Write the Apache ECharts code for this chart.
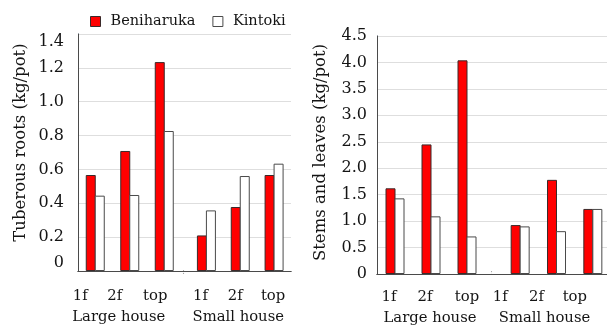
<!DOCTYPE html>
<html>
<head>
<meta charset="utf-8">
<script src="https://cdn.jsdelivr.net/npm/echarts@6/dist/echarts.min.js"></script>
<style>
  html, body { margin: 0; padding: 0; background: #ffffff; }
  #chart { width: 607px; height: 327px; }
</style>
</head>
<body>
<div id="chart"></div>
<script>
// ---- data ----
const floors = ['1f', '2f', 'top'];
const houses = ['Large house', 'Small house'];
const seriesNames = ['Beniharuka', 'Kintoki'];
// order: Large 1f, 2f, top, Small 1f, 2f, top
const rootsBeniharuka = [0.567, 0.709, 1.234, 0.21, 0.378, 0.567];
const rootsKintoki    = [0.445, 0.449, 0.827, 0.358, 0.561, 0.634];
const stemsBeniharuka = [1.62, 2.45, 4.04, 0.925, 1.78, 1.23];
const stemsKintoki    = [1.43, 1.09, 0.71, 0.90, 0.81, 1.23];
const rootsTicks = ['0', '0.2', '0.4', '0.6', '0.8', '1.0', '1.2', '1.4'];
const stemsTicks = ['0', '0.5', '1.0', '1.5', '2.0', '2.5', '3.0', '3.5', '4.0', '4.5'];
const rootsTitle = 'Tuberous roots (kg/pot)';
const stemsTitle = 'Stems and leaves (kg/pot)';

// ---- layout / style ----
const FONT = 'DejaVu Serif';
const TXT = '#141414';
const BENI = '#ff0000';
const KIN = '#ffffff';
const BORDER_DARK = '#4a4a4a';
const AXIS_BLUE = '#9ab5d8';
const GRID_GRAY = '#dedede';

// label horizontal shifts (px, negative = left) for each chart / house
const labelShift = {
  left:  [[-15, -15, -9], [-6, -5, -1]],
  right: [[-6, -6, 0], [-20, -20, -18]]
};
const nameShift = { left: [-11, -2], right: [-1, -12] };

const charts = [
  { key: 'left', ticks: rootsTicks, max: 1.4, interval: 0.2, title: rootsTitle,
    beni: rootsBeniharuka, kin: rootsKintoki,
    frame: { left: 78, top: 34, width: 213, height: 237 },
    parts: [{ left: 78, width: 103.5 }, { left: 189.5, width: 101.5 }],
    labelMargin: 18, tickMargin: 14, nameGap: 39, titlePad: 20, yNameGap: 49,
    minVA: 'bottom', maxVA: 'top' },
  { key: 'right', ticks: stemsTicks, max: 4.5, interval: 0.5, title: stemsTitle,
    beni: stemsBeniharuka, kin: stemsKintoki,
    frame: { left: 377, top: 36, width: 233, height: 238 },
    parts: [{ left: 377, width: 108 }, { left: 502, width: 109 }],
    labelMargin: 16, tickMargin: 10, nameGap: 37, titlePad: 5, yNameGap: 48,
    minVA: null, maxVA: null }
];

const grid = [], xAxis = [], yAxis = [], series = [];

charts.forEach(function (c) {
  const f = c.frame;
  const frameIdx = grid.length;
  grid.push({ left: f.left, top: f.top, width: f.width, height: f.height,
    containLabel: false, outerBoundsMode: 'none' });
  // bottom axis line
  xAxis.push({ gridIndex: frameIdx, type: 'value', min: 0, max: 1, position: 'bottom',
    axisLine: { show: true, lineStyle: { color: BORDER_DARK, width: 1 } },
    axisTick: { show: false }, axisLabel: { show: false }, splitLine: { show: false } });
  // top border
  xAxis.push({ gridIndex: frameIdx, type: 'value', min: 0, max: 1, position: 'top',
    axisLine: { show: true, lineStyle: { color: BORDER_DARK, width: 1 } },
    axisTick: { show: false }, axisLabel: { show: false }, splitLine: { show: false } });
  // main y axis
  const yLabel = { margin: c.tickMargin, fontFamily: FONT, fontSize: 16, color: TXT,
    formatter: (function (ticks) { return function (v, i) { return ticks[i]; }; })(c.ticks) };
  if (c.minVA) yLabel.verticalAlignMinLabel = c.minVA;
  if (c.maxVA) yLabel.verticalAlignMaxLabel = c.maxVA;
  yAxis.push({ gridIndex: frameIdx, type: 'value', min: 0, max: c.max, interval: c.interval,
    position: 'left',
    name: c.title, nameLocation: 'middle', nameRotate: 90, nameGap: c.yNameGap,
    nameTextStyle: { fontFamily: FONT, fontSize: 16.5, color: TXT, padding: [0, 0, 0, c.titlePad] },
    axisLine: { show: true, lineStyle: { color: AXIS_BLUE, width: 1 } },
    axisTick: { show: false },
    axisLabel: yLabel,
    splitLine: { show: true, lineStyle: { color: GRID_GRAY, width: 1 } } });
  // right border
  yAxis.push({ gridIndex: frameIdx, type: 'value', min: 0, max: c.max, position: 'right',
    axisLine: { show: true, lineStyle: { color: BORDER_DARK, width: 1 } },
    axisTick: { show: false }, axisLabel: { show: false }, splitLine: { show: false } });

  c.parts.forEach(function (p, h) {
    const gi = grid.length;
    grid.push({ left: p.left, top: f.top, width: p.width, height: f.height,
      containLabel: false, outerBoundsMode: 'none' });
    const shifts = labelShift[c.key][h];
    const ns = nameShift[c.key][h];
    xAxis.push({ gridIndex: gi, type: 'category',
      data: floors.map(function (fl, k) {
        const d = shifts[k];
        return { value: fl, textStyle: { padding: d < 0 ? [0, -2 * d, 0, 0] : [0, 0, 0, 2 * d] } };
      }),
      name: houses[h], nameLocation: 'middle', nameGap: c.nameGap,
      nameTextStyle: { fontFamily: FONT, fontSize: 14.8, color: TXT,
        padding: ns < 0 ? [0, -2 * ns, 0, 0] : [0, 0, 0, 2 * ns] },
      axisLine: { show: false }, axisTick: { show: false },
      axisLabel: { margin: c.labelMargin, fontFamily: FONT, fontSize: 14.8, color: TXT, interval: 0 },
      splitLine: { show: false } });
    const yi = yAxis.length;
    yAxis.push({ gridIndex: gi, type: 'value', min: 0, max: c.max, show: false,
      splitLine: { show: false } });
    const xi = xAxis.length - 1;
    const beniVals = c.beni.slice(h * 3, h * 3 + 3);
    const kinVals = c.kin.slice(h * 3, h * 3 + 3);
    series.push({ name: seriesNames[0], type: 'bar', xAxisIndex: xi, yAxisIndex: yi,
      data: beniVals, barWidth: 10, barGap: '-10%',
      itemStyle: { color: BENI, borderColor: '#3a2a2a', borderWidth: 1 } });
    series.push({ name: seriesNames[1], type: 'bar', xAxisIndex: xi, yAxisIndex: yi,
      data: kinVals, barWidth: 10, barGap: '-10%',
      itemStyle: { color: KIN, borderColor: BORDER_DARK, borderWidth: 1 } });
  });
});

const chart = echarts.init(document.getElementById('chart'), null, { renderer: 'canvas' });
chart.setOption({
  backgroundColor: '#ffffff',
  animation: false,
  legend: {
    data: [
      { name: seriesNames[0], itemStyle: { color: BENI, borderColor: '#3a2a2a', borderWidth: 1 } },
      { name: seriesNames[1], itemStyle: { color: KIN, borderColor: BORDER_DARK, borderWidth: 1 } }
    ],
    left: 90, top: 14, padding: 0, icon: 'rect', itemWidth: 10, itemHeight: 10, itemGap: 17,
    textStyle: { fontFamily: FONT, fontSize: 14.5, color: TXT, padding: [0, 0, 0, 5] }
  },
  grid: grid,
  xAxis: xAxis,
  yAxis: yAxis,
  series: series,
  graphic: [
    { type: 'text', left: 182, top: 267, style: { text: ':', fontSize: 9, fill: '#9a9a9a', fontFamily: FONT } },
    { type: 'text', left: 490, top: 268, style: { text: ':', fontSize: 9, fill: '#9a9a9a', fontFamily: FONT } }
  ]
});
</script>
</body>
</html>
